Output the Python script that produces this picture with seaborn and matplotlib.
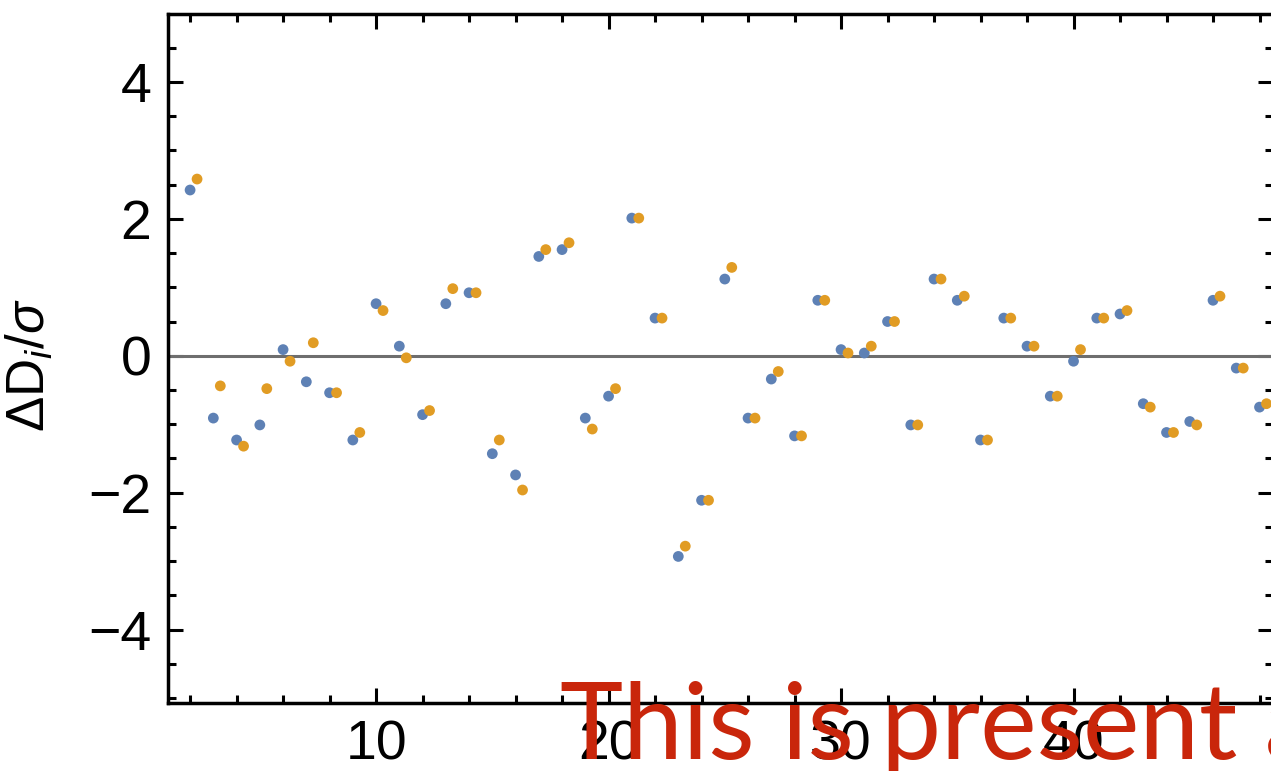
import matplotlib
matplotlib.use("Agg")
import matplotlib.pyplot as plt
from matplotlib.ticker import MultipleLocator
import numpy as np
import pandas as pd
import seaborn as sns

# residuals per bin (blue = first fit, orange = second fit)
bins = list(range(2, 49))
resid_blue = [2.42, -0.91, -1.23, -1.01, 0.09, -0.38, -0.54, -1.23, 0.76, 0.14,
              -0.86, 0.76, 0.92, -1.43, -1.74, 1.45, 1.55, -0.91, -0.59, 2.01,
              0.55, -2.93, -2.11, 1.12, -0.91, -0.34, -1.17, 0.81, 0.09, 0.04,
              0.50, -1.01, 1.12, 0.81, -1.23, 0.55, 0.14, -0.59, -0.08, 0.55,
              0.61, -0.70, -1.12, -0.96, 0.81, -0.18, -0.75]
resid_orange = [2.58, -0.44, -1.32, -0.48, -0.08, 0.19, -0.54, -1.12, 0.66, -0.03,
                -0.80, 0.98, 0.92, -1.23, -1.96, 1.55, 1.65, -1.07, -0.48, 2.01,
                0.55, -2.78, -2.11, 1.29, -0.91, -0.23, -1.17, 0.81, 0.04, 0.14,
                0.50, -1.01, 1.12, 0.87, -1.23, 0.55, 0.14, -0.59, 0.09, 0.55,
                0.66, -0.75, -1.12, -1.01, 0.87, -0.18, -0.70]
series_names = ["fit 1", "fit 2"]
shift = 0.3  # second series drawn slightly to the right

df = pd.concat([
    pd.DataFrame({"bin": np.array(bins, dtype=float), "resid": resid_blue, "series": series_names[0]}),
    pd.DataFrame({"bin": np.array(bins, dtype=float) + shift, "resid": resid_orange, "series": series_names[1]}),
])

sns.set_style("ticks")
plt.rcParams["font.family"] = ["Liberation Sans", "DejaVu Sans"]
plt.rcParams["mathtext.fontset"] = "custom"
plt.rcParams["mathtext.rm"] = "Liberation Sans"
plt.rcParams["mathtext.it"] = "Liberation Sans:italic"
plt.rcParams["text.color"] = "black"
plt.rcParams["axes.labelcolor"] = "black"
plt.rcParams["xtick.color"] = "black"
plt.rcParams["ytick.color"] = "black"

fig = plt.figure(figsize=(12.71, 7.71), dpi=100)
ax = fig.add_axes([168 / 1271, 68 / 771, 1105 / 1271, 689 / 771])

ax.axhline(0, color="#6e6e6e", lw=2.2, zorder=1)
sns.scatterplot(data=df, x="bin", y="resid", hue="series",
                palette=["#5e81b5", "#e19c24"], s=60, linewidth=0,
                legend=False, ax=ax, zorder=3)

ax.set_xlim(1.05, 48.58)
ax.set_ylim(-5.07, 4.99)
ax.xaxis.set_major_locator(MultipleLocator(10))
ax.xaxis.set_minor_locator(MultipleLocator(2))
ax.yaxis.set_major_locator(MultipleLocator(2))
ax.yaxis.set_minor_locator(MultipleLocator(0.5))
ax.tick_params(which="both", direction="in", top=True, right=True, width=2.2)
ax.tick_params(which="major", length=11, labelsize=40, pad=12)
ax.tick_params(which="minor", length=6)
ax.set_yticks([-4, -2, 0, 2, 4])
ax.set_yticklabels(["\u22124", "\u22122", "0", "2", "4"])
for sp in ax.spines.values():
    sp.set_linewidth(2.5)
    sp.set_color("black")

ax.set_xlabel("")
ax.set_ylabel("\u0394D$_i$/$\\sigma$", fontsize=38)
ax.yaxis.set_label_coords(-0.102, 0.49)

# red overlay caption running off the bottom-right corner
fig.text(560 / 1271, 12 / 771, "This is present a", color="#c9260b",
         fontsize=77, family="Lato", va="baseline", ha="left", zorder=10)

fig.savefig("out.png", dpi=100)
